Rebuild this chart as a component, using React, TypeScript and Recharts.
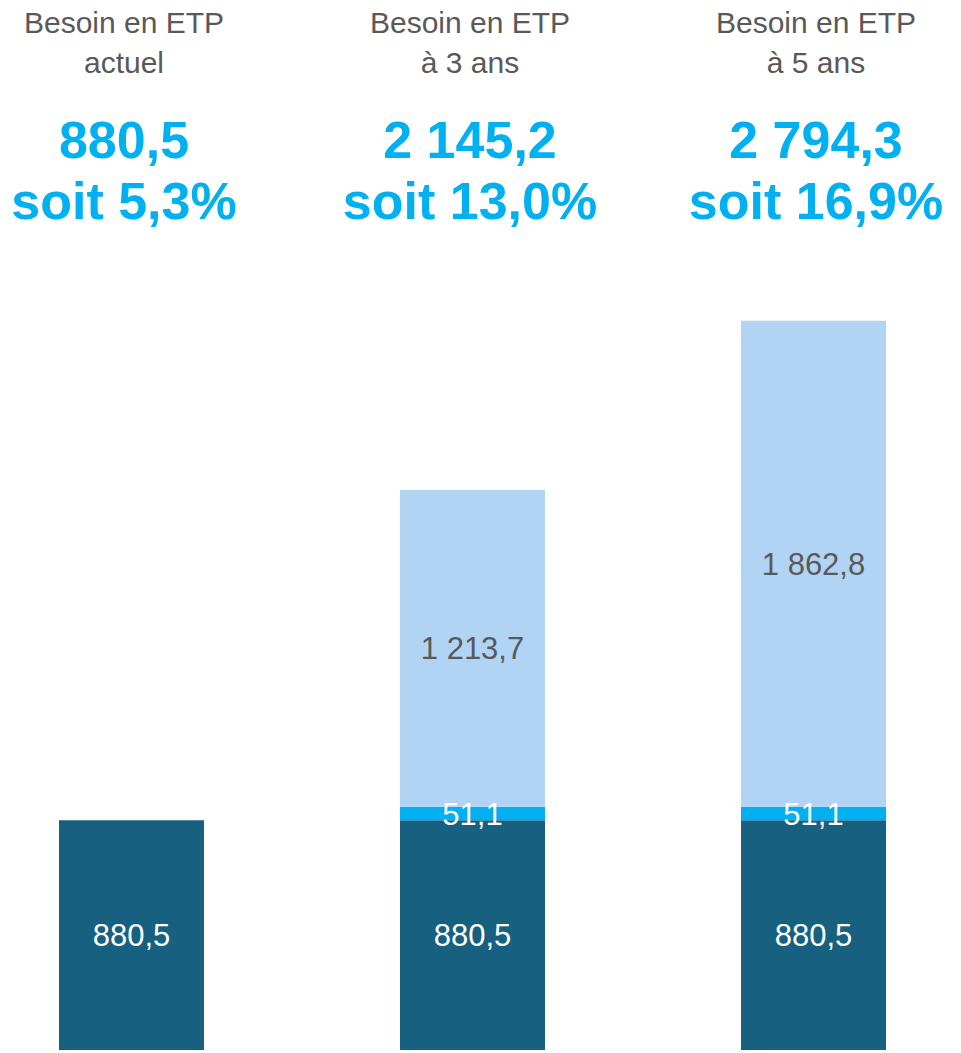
import { BarChart, Bar, XAxis, YAxis, LabelList } from 'recharts';

// en-têtes des colonnes
const categories = ['actuel', '3 ans', '5 ans'];
const headerTitle = ['Besoin en ETP', 'Besoin en ETP', 'Besoin en ETP'];
const headerSub = ['actuel', 'à 3 ans', 'à 5 ans'];
const totals = [880.5, 2145.2, 2794.3];
const shares = [5.3, 13.0, 16.9];

// segments empilés
const baseEtp = [880.5, 880.5, 880.5];
const extraEtp = [null, 51.1, 51.1];
const growthEtp = [null, 1213.7, 1862.8];

const DARK = '#17607F';
const CYAN = '#00B0F0';
const LIGHT = '#B1D4F4';
const GREY = '#595959';
const FONT = '"Liberation Sans", Arial, sans-serif';

const fmt = (v: number | null | undefined, decimals = 1) => {
  if (v == null) return '';
  const [i, d] = Number(v).toFixed(decimals).split('.');
  return i.replace(/\B(?=(\d{3})+(?!\d))/g, ' ') + ',' + d;
};

const data = categories.map((c, i) => ({
  key: c,
  base: baseEtp[i],
  extra: extraEtp[i],
  growth: growthEtp[i],
}));

const HeaderTick = (props: any) => {
  const { payload } = props;
  const i = categories.indexOf(payload.value);
  // les titres sont un peu plus espacés que les barres
  const x = props.x + (i - 1) * 5 - 2.5;
  return (
    <g>
      <text x={x} y={33} textAnchor="middle" fill={GREY} fontSize={30} fontFamily={FONT}>
        {headerTitle[i]}
      </text>
      <text x={x} y={73} textAnchor="middle" fill={GREY} fontSize={30} fontFamily={FONT}>
        {headerSub[i]}
      </text>
      <text x={x} y={158} textAnchor="middle" fill={CYAN} fontSize={52} fontWeight="bold" fontFamily={FONT}>
        {fmt(totals[i])}
      </text>
      <text x={x} y={219} textAnchor="middle" fill={CYAN} fontSize={52} fontWeight="bold" fontFamily={FONT}>
        {'soit ' + fmt(shares[i]) + '%'}
      </text>
    </g>
  );
};

export default function App() {
  return (
    <div
      style={{
        position: 'absolute',
        top: 0,
        left: 0,
        width: 961,
        height: 1053,
        overflow: 'hidden',
        background: '#fff',
        fontFamily: FONT,
      }}
    >
      <div style={{ marginLeft: -39 }}>
        <BarChart
          width={1023}
          height={1053}
          data={data}
          margin={{ top: 0, right: 0, bottom: 3, left: 0 }}
          barSize={145}
        >
          <XAxis
            dataKey="key"
            orientation="top"
            height={250}
            axisLine={false}
            tickLine={false}
            interval={0}
            tick={<HeaderTick />}
          />
          <YAxis hide domain={[0, 3065]} />
          <Bar dataKey="base" stackId="a" fill={DARK} isAnimationActive={false}>
            <LabelList
              dataKey="base"
              position="center"
              fill="#fff"
              fontSize={31}
              fontFamily={FONT}
              formatter={(v: any) => fmt(v)}
            />
          </Bar>
          <Bar dataKey="extra" stackId="a" fill={CYAN} isAnimationActive={false}>
            <LabelList
              dataKey="extra"
              position="center"
              fill="#fff"
              fontSize={31}
              fontFamily={FONT}
              formatter={(v: any) => fmt(v)}
            />
          </Bar>
          <Bar dataKey="growth" stackId="a" fill={LIGHT} isAnimationActive={false}>
            <LabelList
              dataKey="growth"
              position="center"
              fill={GREY}
              fontSize={31}
              fontFamily={FONT}
              formatter={(v: any) => fmt(v)}
            />
          </Bar>
        </BarChart>
      </div>
    </div>
  );
}
